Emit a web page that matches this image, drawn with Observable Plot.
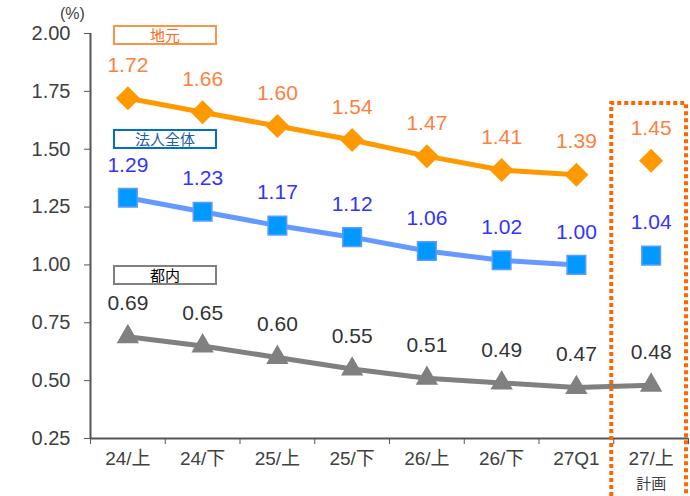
<!DOCTYPE html>
<html>
<head>
<meta charset="utf-8">
<script src="https://cdn.jsdelivr.net/npm/d3@7"></script>
<script src="https://cdn.jsdelivr.net/npm/@observablehq/plot@0.6"></script>
<style>
  body { margin: 0; background: #fff; }
  #wrap { position: relative; width: 690px; height: 496px; font-family: "Liberation Sans", "Noto Sans CJK JP", sans-serif; }
  .tag { position: absolute; box-sizing: border-box; text-align: center; background: #fff; font-family: "Noto Sans CJK JP", sans-serif; font-size: 15px; line-height: 16px; }
  .unit { position: absolute; left: 60px; top: 5px; font-size: 16px; color: #404040; }
</style>
</head>
<body>
<div id="wrap"></div>
<script>
// Periods on the x axis (the last one is the plan figure)
const periods = ["24/上", "24/下", "25/上", "25/下", "26/上", "26/下", "27Q1", "27/上"];
const planNote = "計画";
// Lending rates (%) per period
const jimoto = [1.72, 1.66, 1.60, 1.54, 1.47, 1.41, 1.39, 1.45];   // 地元
const houjin = [1.29, 1.23, 1.17, 1.12, 1.06, 1.02, 1.00, 1.04];   // 法人全体
const tonai  = [0.69, 0.65, 0.60, 0.55, 0.51, 0.49, 0.47, 0.48];   // 都内
const yTicks = [0.25, 0.50, 0.75, 1.00, 1.25, 1.50, 1.75, 2.00];
const seriesNames = ["地元", "法人全体", "都内"];
const planIndex = 7;

const rows = (vals) => vals.map((v, i) => ({i, v}));
const actual = (vals) => rows(vals).filter(d => d.i < planIndex);

// Square rotated by 45 degrees
const diamond = {
  draw(ctx, size) {
    const r = Math.sqrt(size / 2);
    ctx.moveTo(0, -r); ctx.lineTo(r, 0); ctx.lineTo(0, r); ctx.lineTo(-r, 0); ctx.closePath();
  }
};

const font = "'Liberation Sans', 'Noto Sans CJK JP', sans-serif";
const labelDy = -33;

// Dotted frame around the plan column
const planFrame = (index, scales, values, dims) => {
  const x0 = scales.x(planIndex - 0.5) - 2;
  const x1 = scales.x(planIndex + 0.5) - 2;
  const top = dims.marginTop + 70;
  const g = d3.create("svg:path")
    .attr("d", `M${x0},${dims.height}V${top}H${x1}V${dims.height}`)
    .attr("fill", "none")
    .attr("stroke", "#FF6600")
    .attr("stroke-width", 4)
    .attr("stroke-dasharray", "4 3");
  return g.node();
};

const chart = Plot.plot({
  width: 690,
  height: 496,
  marginTop: 33,
  marginBottom: 58,
  marginLeft: 90,
  marginRight: 2,
  style: {fontFamily: font, fontSize: "19px", color: "#404040", background: "#fff", overflow: "visible"},
  x: {type: "linear", domain: [-0.5, 7.5], label: null},
  y: {domain: [0.25, 2.0], label: null},
  marks: [
    // axes
    Plot.axisY({ticks: yTicks, tickFormat: d3.format(".2f"), tickSize: 6, tickPadding: 14, stroke: "#555", fill: "#404040", fontSize: 20, label: null}),
    Plot.ruleX([-0.5], {y1: 0.25, y2: 2.0, stroke: "#555", strokeWidth: 2}),
    Plot.ruleY([0.25], {stroke: "#555", strokeWidth: 2}),
    Plot.axisX({ticks: d3.range(-0.5, 8, 1), tickSize: 6, tickFormat: () => "", stroke: "#555", label: null}),
    Plot.axisX({ticks: d3.range(0, 8), tickSize: 0, tickPadding: 13, tickFormat: i => periods[i], fill: "#404040", fontSize: 19, label: null}),
    Plot.text([planNote], {x: planIndex, frameAnchor: "bottom", dy: 50, fill: "#404040", fontSize: 15, fontFamily: "Noto Sans CJK JP"}),

    // 地元
    Plot.line(actual(jimoto), {x: "i", y: "v", stroke: "#FF9900", strokeWidth: 5}),
    Plot.dot(rows(jimoto), {x: "i", y: "v", symbol: diamond, r: 9.6, fill: "#FF9900", stroke: "none"}),
    Plot.text(rows(jimoto), {x: "i", y: "v", text: d => d3.format(".2f")(d.v), dy: labelDy, fill: "#FF7F40", fontSize: 21}),

    // 法人全体
    Plot.line(actual(houjin), {x: "i", y: "v", stroke: "#6699FF", strokeWidth: 5}),
    Plot.dot(rows(houjin), {x: "i", y: "v", symbol: "square", r: 10.5, fill: "#0099FF", stroke: "#5C9BFF", strokeWidth: 1.5}),
    Plot.text(rows(houjin), {x: "i", y: "v", text: d => d3.format(".2f")(d.v), dy: labelDy, fill: "#3333FF", fontSize: 21}),

    // 都内
    Plot.line(rows(tonai), {x: "i", y: "v", stroke: "#808080", strokeWidth: 5}),
    Plot.dot(rows(tonai), {x: "i", y: "v", symbol: "triangle", r: 8.3, fill: "#808080", stroke: "none"}),
    Plot.text(rows(tonai), {x: "i", y: "v", text: d => d3.format(".2f")(d.v), dy: labelDy, fill: "#333333", fontSize: 21}),

    planFrame
  ]
});

const wrap = document.getElementById("wrap");
wrap.appendChild(chart);

// unit label and series name tags
const unit = document.createElement("div");
unit.className = "unit";
unit.textContent = "(%)";
wrap.appendChild(unit);

const tagStyles = [
  {top: 25, border: "#F79646", color: "#FF6A1A"},
  {top: 129, border: "#0070C0", color: "#1F5FA8"},
  {top: 265, border: "#808080", color: "#000000"}
];
seriesNames.forEach((name, k) => {
  const s = tagStyles[k];
  const el = document.createElement("div");
  el.className = "tag";
  Object.assign(el.style, {
    left: "113px", top: s.top + "px", width: "104px", height: "20px",
    border: `2px solid ${s.border}`, color: s.color
  });
  el.textContent = name;
  wrap.appendChild(el);
});
</script>
</body>
</html>
